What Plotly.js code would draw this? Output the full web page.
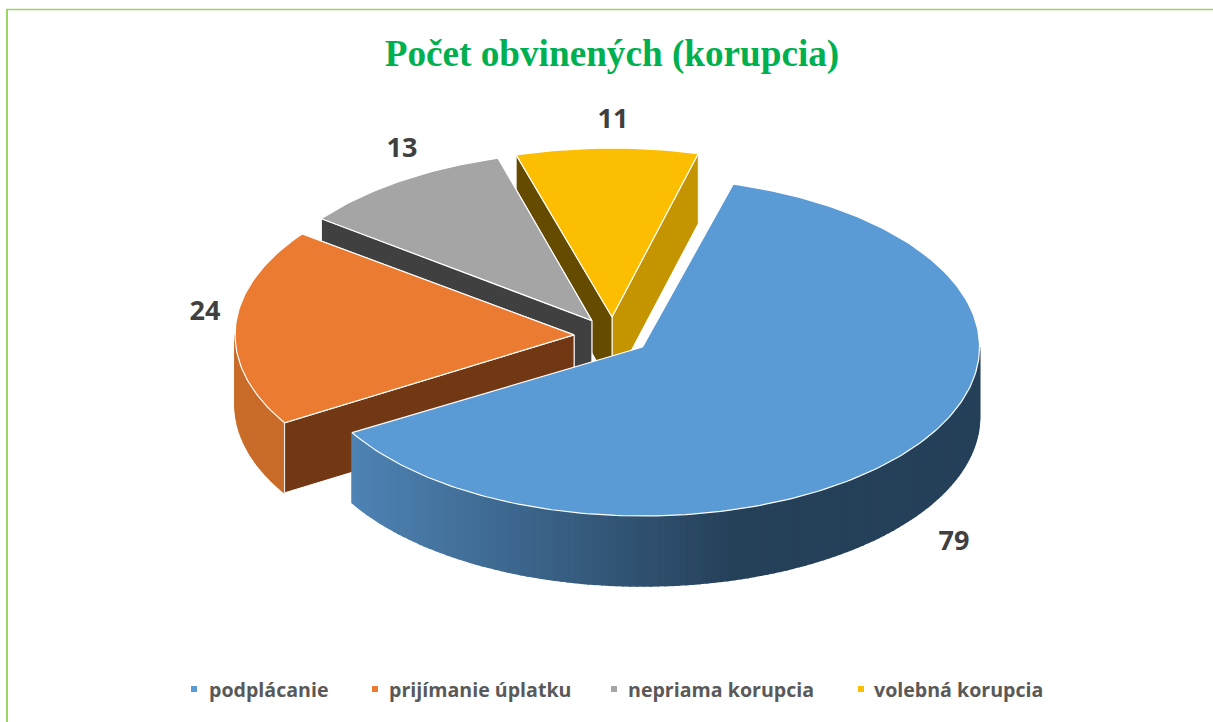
<!DOCTYPE html>
<html>
<head>
<meta charset="utf-8">
<script src="https://cdn.plot.ly/plotly-3.0.1.min.js"></script>
<style>html,body{margin:0;padding:0;background:#fff;overflow:hidden}#chart{width:1213px;height:722px}</style>
</head>
<body>
<div id="chart"></div>
<script>
const titleText = 'Počet obvinených (korupcia)';
const categories = ['podplácanie', 'prijímanie úplatku', 'nepriama korupcia', 'volebná korupcia'];
const values = [79, 24, 13, 11];
const topColors = ['#5B9BD5', '#EB7B30', '#A5A5A5', '#FBBE00'];
const startFaceColors = ['#254059', '#723813', '#404040', '#654B00'];
const endFaceColors = ['#254059', '#723813', '#404040', '#C49500'];
const labelX = [954, 205, 402, 613];
const labelY = [543, 313, 150, 121];
const legendMarkerX = [194, 375, 614, 861];
const legendTextX = [207, 387, 626, 872];

// Projection of the tilted pie; small per-slice corrections stand in for the original's perspective
const firstAngle = 15.6, cx = 612, cy = 337, ry = 169, depth = 70, explode = 36;
const sliceTurn = [0, -0.9, -0.5, -0.85];
const sliceRx = [337, 339, 339, 339];
const sliceDx = [2, -2, 0, 0];
const sliceDy = [-1, -1, -1.5, -2];
const rad = d => d * Math.PI / 180;
const total = values.reduce((a, b) => a + b, 0);

let acc = firstAngle;
const slices = values.map((v, i) => {
  const b0 = acc, b1 = acc + v / total * 360; acc = b1;
  const mid = rad((b0 + b1) / 2);
  return { i, a0: b0 + sliceTurn[i], a1: b1 + sliceTurn[i], rx: sliceRx[i],
    ox: cx + explode * Math.sin(mid) + sliceDx[i],
    oy: cy - explode * 0.5 * Math.cos(mid) + sliceDy[i] };
});
const px = (s, a) => s.ox + s.rx * Math.sin(rad(a));
const py = (s, a) => s.oy - ry * Math.cos(rad(a));

const traces = [];
function poly(xs, ys, fill, line, w) {
  traces.push({ type: 'scatter', mode: 'lines', x: xs, y: ys, fill: 'toself', fillcolor: fill,
    line: { color: line, width: w, shape: 'linear' }, hoverinfo: 'skip', showlegend: false });
}
function sideFace(s, a, col) {
  const x = px(s, a), y = py(s, a);
  poly([s.ox, x, x, s.ox, s.ox], [s.oy, y, y + depth, s.oy + depth, s.oy], col, '#FFFFFF', 1);
}
function wallColor(i, xm) {
  if (i === 1) return '#C96C29';
  const t = Math.min(1, Math.max(0, (xm - 352) / (735 - 352)));
  const c = [78 + t * (37 - 78), 131 + t * (64 - 131), 180 + t * (89 - 180)].map(Math.round);
  return `rgb(${c[0]},${c[1]},${c[2]})`;
}
function rimWall(s) {
  // visible front part of the outer rim, in thin vertical bands
  const from = Math.max(s.a0, 90), to = Math.min(s.a1, 270);
  if (to <= from) return;
  const n = Math.ceil((to - from) / 1.2);
  for (let k = 0; k < n; k++) {
    const a = from + (to - from) * k / n, b = from + (to - from) * (k + 1) / n;
    const xa = px(s, a), xb = px(s, b), ya = py(s, a), yb = py(s, b);
    const col = wallColor(s.i, (xa + xb) / 2);
    poly([xa, xb, xb, xa, xa], [ya, yb, yb + depth, ya + depth, ya], col, col, 1.6);
  }
}
function topFace(s) {
  const xs = [s.ox], ys = [s.oy];
  for (let a = s.a0; a < s.a1; a += 1) { xs.push(px(s, a)); ys.push(py(s, a)); }
  xs.push(px(s, s.a1), s.ox); ys.push(py(s, s.a1), s.oy);
  poly(xs, ys, topColors[s.i], '#FFFFFF', 1.2);
}
// painter's order: back slices first
[3, 2, 1, 0].forEach(i => {
  const s = slices[i];
  rimWall(s);
  if (i !== 0) { sideFace(s, s.a1, endFaceColors[i]); sideFace(s, s.a0, startFaceColors[i]); }
  topFace(s);
});

// value labels
traces.push({ type: 'scatter', mode: 'text', x: labelX, y: labelY, text: values.map(String),
  textposition: 'middle center', cliponaxis: false, hoverinfo: 'skip', showlegend: false,
  textfont: { family: 'Open Sans', size: 27, color: '#404040', weight: 700 } });

// legend keys
traces.push({ type: 'scatter', mode: 'markers', x: legendMarkerX, y: categories.map(() => 689),
  marker: { symbol: 'square', size: 6, color: topColors }, hoverinfo: 'skip', showlegend: false });

const annotations = categories.map((c, i) => ({
  text: c, x: legendTextX[i], y: 689, xref: 'x', yref: 'y', xanchor: 'left', yanchor: 'middle',
  showarrow: false, font: { family: 'Open Sans', size: 19.6, color: '#595959', weight: 700 }
}));

const layout = {
  width: 1213, height: 722, margin: { l: 0, r: 0, t: 0, b: 0 },
  paper_bgcolor: '#FFFFFF', plot_bgcolor: '#FFFFFF', showlegend: false,
  title: { text: titleText, x: 612 / 1213, xanchor: 'center', y: 1 - 53 / 722, yanchor: 'middle',
    font: { family: 'Liberation Serif', size: 37.2, color: '#00B050', weight: 700 } },
  xaxis: { range: [0, 1213], visible: false, fixedrange: true },
  yaxis: { range: [722, 0], visible: false, fixedrange: true },
  shapes: [
    { type: 'line', xref: 'x', yref: 'y', x0: 7, x1: 7, y0: 9, y1: 722, line: { color: '#9BD564', width: 2 } },
    { type: 'line', xref: 'x', yref: 'y', x0: 6, x1: 1213, y0: 9.5, y1: 9.5, line: { color: '#9BD564', width: 1.5 } }
  ],
  annotations
};
Plotly.newPlot('chart', traces, layout, { displayModeBar: false, responsive: false });
</script>
</body>
</html>
